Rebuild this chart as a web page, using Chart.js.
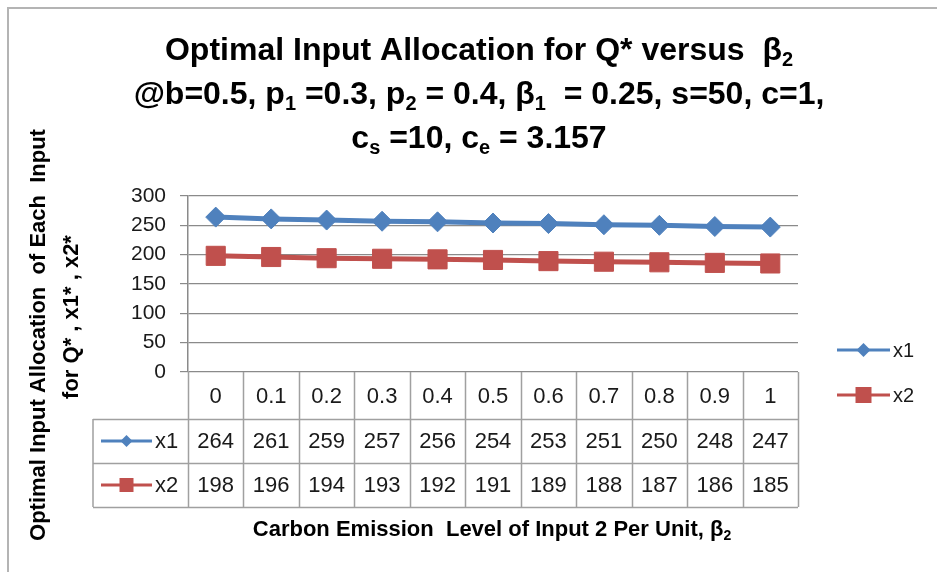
<!DOCTYPE html>
<html>
<head>
<meta charset="utf-8">
<script src="https://cdn.jsdelivr.net/npm/chart.js@4.4.0/dist/chart.umd.min.js"></script>
<style>
  html, body { margin: 0; padding: 0; background: #fff; }
  #wrap { position: relative; width: 937px; height: 572px; }
</style>
</head>
<body>
<div id="wrap"><canvas id="chart"></canvas></div>
<script>
"use strict";

// data
const betaLabels = ['0', '0.1', '0.2', '0.3', '0.4', '0.5', '0.6', '0.7', '0.8', '0.9', '1'];
const x1Values = [264, 261, 259, 257, 256, 254, 253, 251, 250, 248, 247];
const x2Values = [198, 196, 194, 193, 192, 191, 189, 188, 187, 186, 185];
const seriesNames = ['x1', 'x2'];
const yTickMin = 0;
const yTickMax = 300;
const yTickStep = 50;

const titleLines = [
    'Optimal Input Allocation for Q* versus  β_2',
    '@b=0.5, p_1 =0.3, p_2 = 0.4, β_1  = 0.25, s=50, c=1,',
    'c_s =10, c_e = 3.157'
];
const yTitleLines = ['Optimal Input Allocation  of Each  Input', 'for Q* , x1* , x2*'];
const xTitle = 'Carbon Emission  Level of Input 2 Per Unit, β_2';

const BLUE = '#4F81BD';
const RED = '#C0504D';
const GRID = '#8a8a8a';
const TABLE_LINE = '#a0a0a0';
const FONT = '"Liberation Sans", Arial, sans-serif';

// "_X" -> X as subscript
function splitRich(text) {
    var parts = [];
    for (var i = 0; i < text.length; i++) {
        if (text[i] === '_') {
            parts.push({ t: text[i + 1], sub: true });
            i++;
        } else if (parts.length && !parts[parts.length - 1].sub) {
            parts[parts.length - 1].t += text[i];
        } else {
            parts.push({ t: text[i], sub: false });
        }
    }
    return parts;
}

function drawRich(ctx, text, cx, cy, size, weight) {
    var parts = splitRich(text);
    var subSize = Math.round(size * 0.62);
    var total = 0;
    parts.forEach(function (p) {
        ctx.font = weight + ' ' + (p.sub ? subSize : size) + 'px ' + FONT;
        p.w = ctx.measureText(p.t).width;
        total += p.w;
    });
    var x = cx - total / 2;
    ctx.textAlign = 'left';
    ctx.textBaseline = 'middle';
    parts.forEach(function (p) {
        ctx.font = weight + ' ' + (p.sub ? subSize : size) + 'px ' + FONT;
        ctx.fillText(p.t, x, p.sub ? cy + size * 0.3 : cy);
        x += p.w;
    });
}

function drawMarker(ctx, style, x, y, r, color) {
    ctx.fillStyle = color;
    ctx.beginPath();
    if (style === 'rectRot') {
        ctx.moveTo(x - r, y);
        ctx.lineTo(x, y - r);
        ctx.lineTo(x + r, y);
        ctx.lineTo(x, y + r);
    } else {
        ctx.rect(x - r, y - r, 2 * r, 2 * r);
    }
    ctx.closePath();
    ctx.fill();
}

function drawKey(ctx, x0, x1, y, color, style, r, lw) {
    ctx.strokeStyle = color;
    ctx.lineWidth = lw;
    ctx.beginPath();
    ctx.moveTo(x0, y);
    ctx.lineTo(x1, y);
    ctx.stroke();
    drawMarker(ctx, style, (x0 + x1) / 2, y, r, color);
}

const decorPlugin = {
    id: 'decor',
    afterDraw: function (chart) {
        var ctx = chart.ctx;
        var area = chart.chartArea;
        var xs = chart.scales.x;
        var n = betaLabels.length;
        var colW = (area.right - area.left) / n;
        var rows = [area.bottom, 419, 463, 507];
        var tableLeft = 93;
        var colors = [BLUE, RED];
        var styles = ['rectRot', 'rect'];

        ctx.save();

        // outer frame
        ctx.strokeStyle = '#b4b4b4';
        ctx.lineWidth = 2;
        ctx.strokeRect(8, 8, 1000, 1000);

        // title
        ctx.fillStyle = '#000';
        var titleY = [51, 95, 139];
        titleLines.forEach(function (line, i) {
            drawRich(ctx, line, 479, titleY[i], 32, 'bold');
        });

        // y axis title
        ctx.save();
        ctx.translate(39, 335);
        ctx.rotate(-Math.PI / 2);
        drawRich(ctx, yTitleLines[0], 0, 0, 22, 'bold');
        drawRich(ctx, yTitleLines[1], 18, 33, 22, 'bold');
        ctx.restore();

        // x axis title
        drawRich(ctx, xTitle, 492, 530, 22, 'bold');

        // data table grid
        ctx.strokeStyle = TABLE_LINE;
        ctx.lineWidth = 1.5;
        ctx.beginPath();
        for (var i = 0; i <= n; i++) {
            var gx = Math.round(area.left + i * colW) + 0.5;
            ctx.moveTo(gx, rows[0]);
            ctx.lineTo(gx, rows[3]);
        }
        ctx.moveTo(tableLeft, rows[1]);
        ctx.lineTo(tableLeft, rows[3]);
        for (var r = 1; r < rows.length; r++) {
            ctx.moveTo(tableLeft, rows[r] + 0.5);
            ctx.lineTo(area.right, rows[r] + 0.5);
        }
        ctx.stroke();

        // table text
        ctx.fillStyle = '#1a1a1a';
        ctx.font = '22px ' + FONT;
        ctx.textAlign = 'center';
        ctx.textBaseline = 'middle';
        var series = [x1Values, x2Values];
        for (var c = 0; c < n; c++) {
            var cx = xs.getPixelForValue(c);
            ctx.fillText(betaLabels[c], cx, (rows[0] + rows[1]) / 2 + 1);
            ctx.fillText(String(series[0][c]), cx, (rows[1] + rows[2]) / 2 + 1);
            ctx.fillText(String(series[1][c]), cx, (rows[2] + rows[3]) / 2 + 1);
        }

        // legend keys inside the table
        for (var s = 0; s < 2; s++) {
            var ry = (rows[s + 1] + rows[s + 2]) / 2;
            drawKey(ctx, 101, 152, ry, colors[s], styles[s], s === 0 ? 6 : 7, 3);
            ctx.fillStyle = '#1a1a1a';
            ctx.font = '22px ' + FONT;
            ctx.textAlign = 'left';
            ctx.fillText(seriesNames[s], 155, ry + 1);
        }

        // legend on the right
        var legY = [350, 395];
        for (var k = 0; k < 2; k++) {
            drawKey(ctx, 837, 890, legY[k], colors[k], styles[k], k === 0 ? 7 : 8, 3);
            ctx.fillStyle = '#1a1a1a';
            ctx.font = '20px ' + FONT;
            ctx.textAlign = 'left';
            ctx.fillText(seriesNames[k], 893, legY[k] + 1);
        }

        ctx.restore();
    }
};

const ctx = document.getElementById('chart').getContext('2d');
const chart = new Chart(ctx, {
    type: 'line',
    data: {
        labels: betaLabels,
        datasets: [
            {
                label: seriesNames[0],
                data: x1Values,
                borderColor: BLUE,
                backgroundColor: BLUE,
                borderWidth: 5,
                pointStyle: 'rectRot',
                pointRadius: 10,
                pointBorderWidth: 1,
                tension: 0
            },
            {
                label: seriesNames[1],
                data: x2Values,
                borderColor: RED,
                backgroundColor: RED,
                borderWidth: 5,
                pointStyle: 'rect',
                pointRadius: 13.5,
                pointBorderWidth: 1,
                tension: 0
            }
        ]
    },
    options: {
        responsive: true,
        maintainAspectRatio: false,
        animation: false,
        layout: { padding: { left: 100, right: 139, top: 196, bottom: 200 } },
        plugins: {
            legend: { display: false },
            title: { display: false },
            tooltip: { enabled: false }
        },
        scales: {
            x: {
                display: false,
                offset: true
            },
            y: {
                min: yTickMin,
                max: yTickMax,
                ticks: {
                    stepSize: yTickStep,
                    autoSkip: false,
                    padding: 14,
                    color: '#1a1a1a',
                    font: { family: FONT, size: 21 }
                },
                grid: { color: GRID, lineWidth: 1.2, tickLength: 8 },
                border: { display: true, color: GRID, width: 1.5 },
                afterFit: function (scale) { scale.width = 88; }
            }
        }
    },
    plugins: [decorPlugin]
});
</script>
</body>
</html>
